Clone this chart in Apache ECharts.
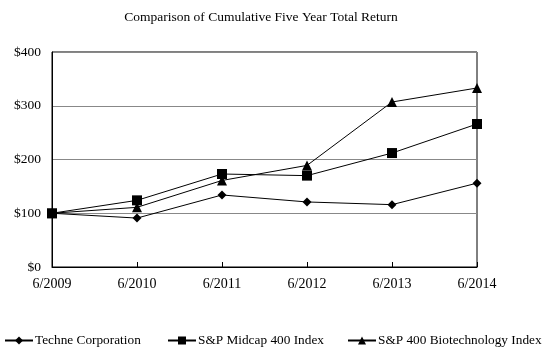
<!DOCTYPE html>
<html><head><meta charset="utf-8">
<script src="https://cdn.jsdelivr.net/npm/echarts@6/dist/echarts.min.js"></script>
<style>html,body{margin:0;padding:0;background:#fff}#c{width:548px;height:356px}</style>
</head><body><div id="c"></div>
<script>
var categories = ['6/2009','6/2010','6/2011','6/2012','6/2013','6/2014'];
var techne = [100, 91, 134, 121, 116, 156];
var midcap = [100, 124, 173, 170, 212, 266];
var biotech = [100, 111, 161, 189, 307, 333];
var seriesNames = ['Techne Corporation','S&P Midcap 400 Index','S&P 400 Biotechnology Index'];
var font = 'Liberation Serif';
var chart = echarts.init(document.getElementById('c'));
function s(name, data, sym, size){
  return {name:name, type:'line', data:data, symbol:sym, symbolSize:size,
    lineStyle:{color:'#000', width:1}, itemStyle:{color:'#000'}, emphasis:{disabled:true}, animation:false};
}
function lg(name, left){
  return {top:334, left:left, itemWidth:28, itemHeight:10, itemGap:0, padding:0,
    textStyle:{fontFamily:font, fontSize:13.3, color:'#000', padding:[0,0,0,-3]}, data:[name]};
}
chart.setOption({
  animation:false,
  title:{text:'Comparison of Cumulative Five Year Total Return', left:256, textAlign:'center', top:5,
    textStyle:{fontFamily:font, fontSize:13.5, fontWeight:'normal', color:'#000'}},
  legend:[lg(seriesNames[0], 4), lg(seriesNames[1], 167), lg(seriesNames[2], 347)],
  grid:{left:52, right:71, top:52, bottom:89, show:true, borderColor:'#000', borderWidth:1},
  xAxis:{type:'category', data:categories, boundaryGap:false,
    axisLine:{lineStyle:{color:'#000'}}, axisTick:{inside:true, length:5, lineStyle:{color:'#000'}},
    axisLabel:{fontFamily:font, fontSize:14, color:'#000', margin:10}},
  yAxis:{type:'value', min:0, max:400, interval:100,
    axisLine:{show:true, lineStyle:{color:'#000'}}, axisTick:{show:false},
    splitLine:{lineStyle:{color:'#888'}},
    axisLabel:{fontFamily:font, fontSize:13.5, color:'#000', margin:11, formatter:function(v){return '$'+v;}}},
  series:[s(seriesNames[0], techne, 'diamond', 9),
          s(seriesNames[1], midcap, 'rect', 10),
          s(seriesNames[2], biotech, 'triangle', 10)]
});
</script></body></html>
